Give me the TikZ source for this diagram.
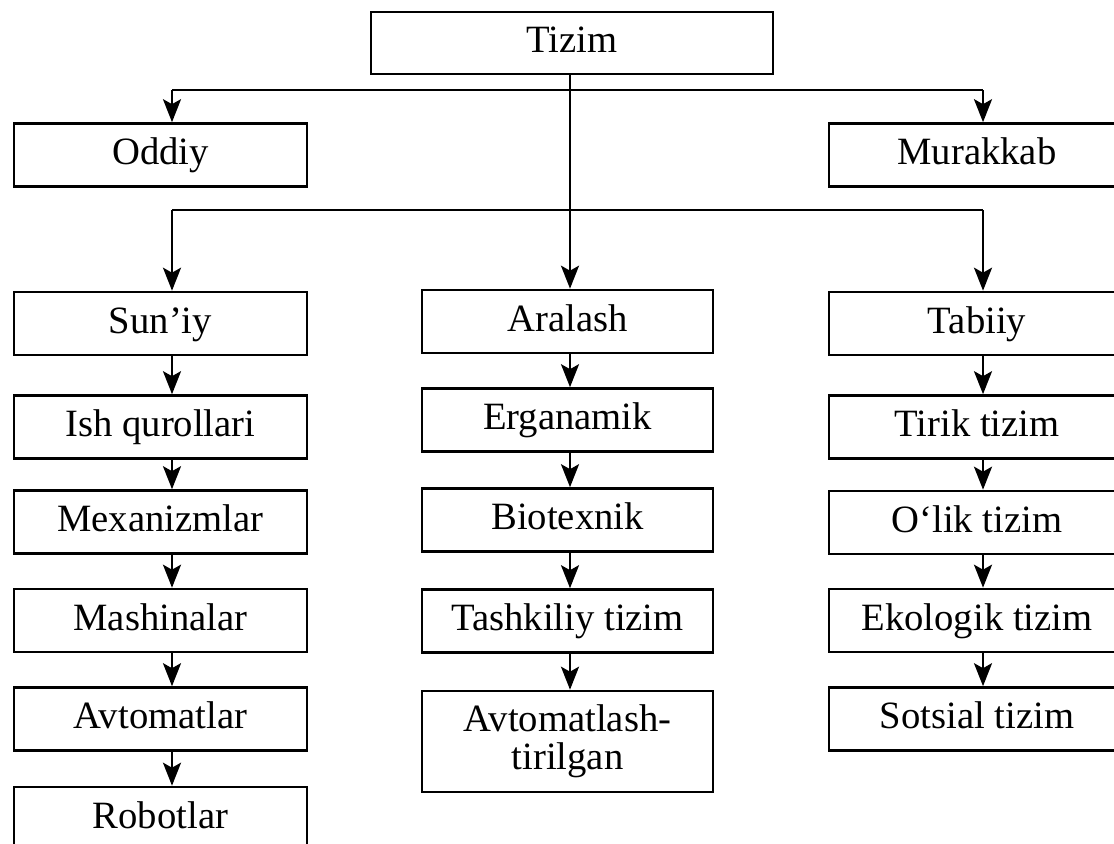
\documentclass[tikz,border=0pt]{standalone}
\usepackage{fontspec}
\setmainfont{Liberation Serif}
\usetikzlibrary{arrows.meta}

\tikzset{
  box/.style={draw, line width=1.5pt, minimum width=5.86cm, minimum height=1.26cm,
    inner sep=0pt, font=\fontsize{22}{21.5}\selectfont},
  cell/.style={box, text height=16pt, text depth=5pt},
  link/.style={line width=1.4pt},
  arr/.style={line width=1.4pt, -{Stealth[length=0.46cm,width=0.36cm,inset=0.1cm]}}
}

\begin{document}
\begin{tikzpicture}[x=0.02cm,y=-0.02cm]
\useasboundingbox (0,0) rectangle (1114,843);
% top level
\node[cell, minimum width=8.04cm, minimum height=1.24cm] (tizim) at (572,43) {Tizim};
\node[cell] (oddiy) at (160.5,155) {Oddiy};
\node[cell, minimum width=5.92cm] (murakkab) at (977,155) {Murakkab};
% left column
\node[cell] (suniy) at (160.5,323.5) {Sun’iy};
\node[cell] (ish) at (160.5,427) {Ish qurollari};
\node[cell] (mex) at (160.5,522) {Mexanizmlar};
\node[cell] (mash) at (160.5,620.5) {Mashinalar};
\node[cell] (avt) at (160.5,719) {Avtomatlar};
\node[cell] (robot) at (160.5,818.5) {Robotlar};
% middle column
\node[cell, minimum width=5.82cm] (aralash) at (567.5,321.5) {Aralash};
\node[cell, minimum width=5.82cm] (ergo) at (567.5,420) {Erganamik};
\node[cell, minimum width=5.82cm] (bio) at (567.5,520) {Biotexnik};
\node[cell, minimum width=5.82cm] (tash) at (567.5,621) {Tashkiliy tizim};
\node[box, minimum width=5.82cm, minimum height=2.02cm, align=center] (avtlash) at (567.5,741.5) {Avtomatlash-\\tirilgan};
% right column
\node[cell, minimum width=5.92cm] (tabiiy) at (977,323.5) {Tabiiy};
\node[cell, minimum width=5.92cm] (tirik) at (977,427) {Tirik tizim};
\node[cell, minimum width=5.92cm] (olik) at (977,522.5) {O‘lik tizim};
\node[cell, minimum width=5.92cm] (eko) at (977,620.5) {Ekologik tizim};
\node[cell, minimum width=5.92cm] (sots) at (977,719) {Sotsial tizim};
% branches
\coordinate (l1w) at (172,90);
\coordinate (l1e) at (983,90);
\coordinate (l2w) at (172,210);
\coordinate (l2e) at (983,210);
\draw[link] (l1w) -- (l1e);
\draw[link] (l2w) -- (l2e);
\draw[arr] (l1w) -- (l1w |- oddiy.north);
\draw[arr] (l1e) -- (l1e |- murakkab.north);
\draw[arr] (l2w) -- (l2w |- suniy.north);
\draw[arr] (l2e) -- (l2e |- tabiiy.north);
\draw[arr] ([xshift=0.05cm]tizim.south -| aralash.north) -- ([xshift=0.05cm]aralash.north);
% chains
\foreach \a/\b in {suniy/ish, ish/mex, mex/mash, mash/avt, avt/robot}
  \draw[arr] ([xshift=0.23cm]\a.south) -- ([xshift=0.23cm]\b.north);
\foreach \a/\b in {aralash/ergo, ergo/bio, bio/tash, tash/avtlash}
  \draw[arr] ([xshift=0.05cm]\a.south) -- ([xshift=0.05cm]\b.north);
\foreach \a/\b in {tabiiy/tirik, tirik/olik, olik/eko, eko/sots}
  \draw[arr] ([xshift=0.12cm]\a.south) -- ([xshift=0.12cm]\b.north);
\end{tikzpicture}
\end{document}
